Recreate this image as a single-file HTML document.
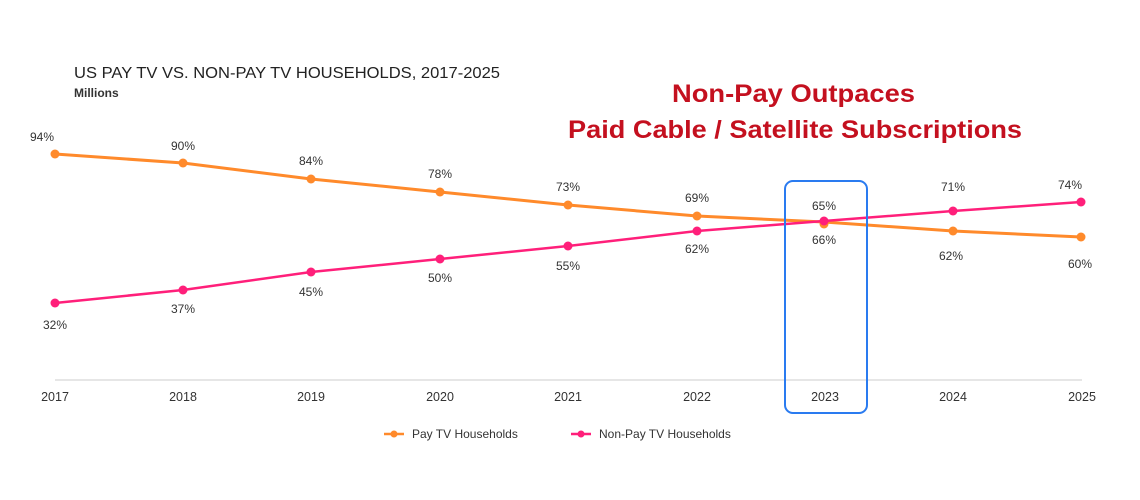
<!DOCTYPE html>
<html><head><meta charset="utf-8"><style>
html,body{margin:0;padding:0;background:#fff;}
svg{display:block;font-family:"Liberation Sans",Arial,sans-serif;}
</style></head><body>
<svg width="1140" height="500" viewBox="0 0 1140 500">
<rect width="1140" height="500" fill="#fff"/>
<text x="74" y="78" font-size="16" fill="#222" textLength="426" lengthAdjust="spacingAndGlyphs">US PAY TV VS. NON-PAY TV HOUSEHOLDS, 2017-2025</text>
<text x="74" y="97" font-size="12" fill="#333" font-weight="bold">Millions</text>
<text x="672" y="102" font-size="25" font-weight="bold" fill="#c4101f" textLength="243" lengthAdjust="spacingAndGlyphs">Non-Pay Outpaces</text>
<text x="568" y="138" font-size="25" font-weight="bold" fill="#c4101f" textLength="454" lengthAdjust="spacingAndGlyphs">Paid Cable / Satellite Subscriptions</text>
<line x1="55" y1="380" x2="1082" y2="380" stroke="#ddd" stroke-width="1.5"/>
<g font-size="12.5" fill="#333" text-anchor="middle">
<text x="55" y="401">2017</text><text x="183" y="401">2018</text><text x="311" y="401">2019</text><text x="440" y="401">2020</text><text x="568" y="401">2021</text><text x="697" y="401">2022</text><text x="825" y="401">2023</text><text x="953" y="401">2024</text><text x="1082" y="401">2025</text>
</g>
<polyline fill="none" stroke="#ff8a2b" stroke-width="3" points="55,154 183,163 311,179 440,192 568,205 697,216 824,222 953,231 1081,237"/>
<polyline fill="none" stroke="#ff1f7a" stroke-width="2.5" points="55,303 183,290 311,272 440,259 568,246 697,231 824,221 953,211 1081,202"/>
<g fill="#ff8a2b">
<circle cx="55" cy="154" r="4.5"/><circle cx="183" cy="163" r="4.5"/><circle cx="311" cy="179" r="4.5"/><circle cx="440" cy="192" r="4.5"/><circle cx="568" cy="205" r="4.5"/><circle cx="697" cy="216" r="4.5"/><circle cx="824" cy="224" r="4.5"/><circle cx="953" cy="231" r="4.5"/><circle cx="1081" cy="237" r="4.5"/>
</g>
<g fill="#ff1f7a">
<circle cx="55" cy="303" r="4.5"/><circle cx="183" cy="290" r="4.5"/><circle cx="311" cy="272" r="4.5"/><circle cx="440" cy="259" r="4.5"/><circle cx="568" cy="246" r="4.5"/><circle cx="697" cy="231" r="4.5"/><circle cx="824" cy="221" r="4.5"/><circle cx="953" cy="211" r="4.5"/><circle cx="1081" cy="202" r="4.5"/>
</g>
<g font-size="12" fill="#333" text-anchor="middle">
<text x="42" y="141">94%</text><text x="183" y="150">90%</text><text x="311" y="165">84%</text><text x="440" y="178">78%</text><text x="568" y="191">73%</text><text x="697" y="202">69%</text><text x="824" y="210">65%</text><text x="951" y="260">62%</text><text x="1080" y="268">60%</text>
<text x="55" y="329">32%</text><text x="183" y="313">37%</text><text x="311" y="296">45%</text><text x="440" y="282">50%</text><text x="568" y="270">55%</text><text x="697" y="253">62%</text><text x="824" y="244">66%</text><text x="953" y="191">71%</text><text x="1070" y="189">74%</text>
</g>
<rect x="785" y="181" width="82" height="232" rx="8" fill="none" stroke="#2a7bf0" stroke-width="2"/>
<line x1="384" y1="434" x2="404" y2="434" stroke="#ff8a2b" stroke-width="2.5"/><circle cx="394" cy="434" r="3.5" fill="#ff8a2b"/>
<text x="412" y="438" font-size="12" fill="#333">Pay TV Households</text>
<line x1="571" y1="434" x2="591" y2="434" stroke="#ff1f7a" stroke-width="2.5"/><circle cx="581" cy="434" r="3.5" fill="#ff1f7a"/>
<text x="599" y="438" font-size="12" fill="#333">Non-Pay TV Households</text>
</svg>
</body></html>
